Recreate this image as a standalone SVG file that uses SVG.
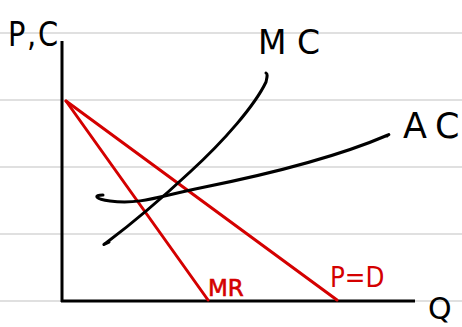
<svg xmlns="http://www.w3.org/2000/svg" width="462" height="327" viewBox="0 0 462 327">
<style>
.rule{stroke:#d6d6d6;stroke-width:1.5}
.ax{stroke:#000;stroke-width:3;fill:none}
.curve{stroke:#000;stroke-width:3;fill:none;stroke-linecap:round}
.red{stroke:#d40000;stroke-width:3;fill:none;stroke-linecap:round}
.lbl{font-family:"DejaVu Sans",sans-serif;fill:#000}
.rlbl{font-family:"DejaVu Sans",sans-serif;fill:#d40000}
</style>
<rect width="462" height="327" fill="#fff"/>
<g id="paper">
<line class="rule" x1="0" y1="33" x2="462" y2="33"/>
<line class="rule" x1="0" y1="100" x2="462" y2="100"/>
<line class="rule" x1="0" y1="167" x2="462" y2="167"/>
<line class="rule" x1="0" y1="234" x2="462" y2="234"/>
<line class="rule" x1="0" y1="301" x2="462" y2="301"/>
</g>
<g id="axes">
<line class="ax" x1="62" y1="41" x2="62" y2="302"/>
<line class="ax" x1="61" y1="301" x2="415" y2="301"/>
<text class="lbl" x="8" y="46" font-size="34" transform="translate(8 46) scale(0.85 1) translate(-8 -46)">P<tspan dx="2">,</tspan><tspan dx="2">C</tspan></text>
<text class="lbl" x="428" y="319" font-size="30">Q</text>
</g>
<g id="connectors">
<path class="red" d="M66 101 L208 300"/>
<path class="red" d="M66 101 L337 300"/>
<path class="curve" d="M109 242 C104 244 102 246 106 243 C130 225 160 200 190 172 C225 140 255 105 266 82 C267 77 268 74 266 73"/>
<path class="curve" d="M103 195 C93 195 95 199 110 201 C140 205 160 196 200 188 C260 176 330 160 388 135 C390 134 388 135 387 136"/>
</g>
<g id="MC"><text class="lbl" x="258" y="54" font-size="33">M<tspan x="297">C</tspan></text></g>
<g id="AC"><text class="lbl" x="403" y="138" font-size="35">A<tspan x="435">C</tspan></text></g>
<g id="MR"><text class="rlbl" x="208" y="296" font-size="23" stroke="#d40000" stroke-width="0.6">MR</text></g>
<g id="PD"><text class="rlbl" x="330" y="287" font-size="28" transform="translate(330 287) scale(0.88 1) translate(-330 -287)">P=D</text></g>
</svg>
